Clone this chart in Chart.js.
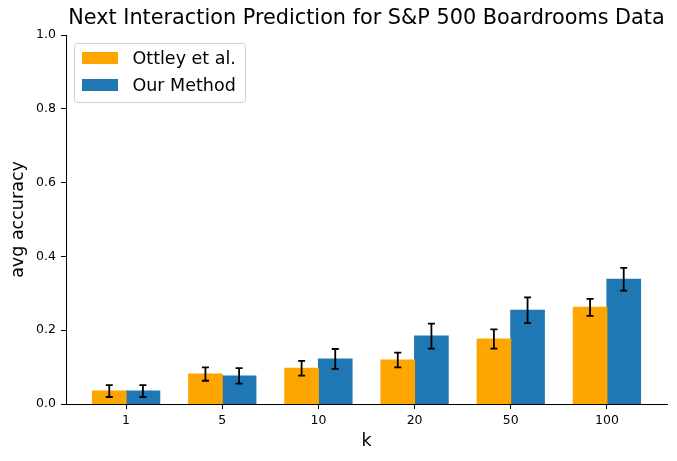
<!DOCTYPE html>
<html>
<head>
<meta charset="utf-8">
<script src="https://cdn.jsdelivr.net/npm/chart.js@4"></script>
<style>
  body { margin: 0; background: #fff; }
</style>
</head>
<body>
<canvas id="chart" width="677" height="461"></canvas>
<script>
const kLabels = ["1", "5", "10", "20", "50", "100"]
const ottley = [0.035, 0.081, 0.097, 0.119, 0.176, 0.262]
const ottleyErr = [0.016, 0.018, 0.020, 0.020, 0.026, 0.023]
const ours = [0.035, 0.076, 0.122, 0.184, 0.254, 0.338]
const oursErr = [0.016, 0.021, 0.027, 0.034, 0.035, 0.031]
const yTicks = [0, 0.2, 0.4, 0.6, 0.8, 1.0]

const FONT = "'DejaVu Sans', sans-serif"

// error bars, title and legend box drawn on top of the bars
const extras = {
  id: "extras",
  afterDatasetsDraw(chart) {
    const { ctx, chartArea, scales } = chart
    ctx.save()
    ctx.strokeStyle = "#000"
    ctx.lineWidth = 1.8
    chart.data.datasets.forEach((ds, d) => {
      chart.getDatasetMeta(d).data.forEach((bar, i) => {
        const v = ds.data[i].y, e = ds.errors[i]
        const top = scales.y.getPixelForValue(v + e)
        const bot = scales.y.getPixelForValue(v - e)
        ctx.beginPath()
        ctx.moveTo(bar.x, top); ctx.lineTo(bar.x, bot)
        ctx.moveTo(bar.x - 3.5, top); ctx.lineTo(bar.x + 3.5, top)
        ctx.moveTo(bar.x - 3.5, bot); ctx.lineTo(bar.x + 3.5, bot)
        ctx.stroke()
      })
    })

    // title
    ctx.fillStyle = "#000"
    ctx.font = "20.8px " + FONT
    ctx.textAlign = "center"
    ctx.textBaseline = "middle"
    ctx.fillText("Next Interaction Prediction for S&P 500 Boardrooms Data",
      (chartArea.left + chartArea.right) / 2, 19)

    // legend
    const x0 = chartArea.left + 8.5, y0 = chartArea.top + 8.5
    ctx.beginPath()
    ctx.roundRect(x0, y0, 171, 59, 3)
    ctx.fillStyle = "rgba(255,255,255,0.8)"
    ctx.fill()
    ctx.strokeStyle = "#d0d0d0"
    ctx.lineWidth = 1
    ctx.stroke()
    ctx.font = "17.5px " + FONT
    ctx.textAlign = "left"
    chart.data.datasets.forEach((ds, d) => {
      const cy = y0 + 14.5 + d * 27
      ctx.fillStyle = ds.backgroundColor
      ctx.fillRect(x0 + 7.5, cy - 6, 36, 12)
      ctx.fillStyle = "#000"
      ctx.fillText(ds.label, x0 + 58, cy + 1)
    })
    ctx.restore()
  }
}

new Chart(document.getElementById("chart"), {
  type: "bar",
  data: {
    datasets: [
      {
        label: "Ottley et al.",
        data: ottley.map((v, i) => ({ x: i, y: v })),
        errors: ottleyErr,
        backgroundColor: "#ffa500",
        borderWidth: 0,
        borderColor: "rgba(0,0,0,0)",
        inflateAmount: 0.5
      },
      {
        label: "Our Method",
        data: ours.map((v, i) => ({ x: i, y: v })),
        errors: oursErr,
        backgroundColor: "#1f77b4",
        borderWidth: 0,
        borderColor: "rgba(0,0,0,0)",
        inflateAmount: 0.5
      }
    ]
  },
  options: {
    responsive: false,
    animation: false,
    devicePixelRatio: 1,
    categoryPercentage: 0.7,
    barPercentage: 1.0,
    layout: { padding: { top: 35, right: 10, left: 0, bottom: 0 } },
    plugins: { legend: { display: false }, tooltip: { enabled: false } },
    scales: {
      x: {
        type: "linear",
        offset: false,
        min: -0.625,
        max: 5.625,
        afterFit: s => { s.height = 57 },
        afterBuildTicks: s => { s.ticks = kLabels.map((_, i) => ({ value: i })) },
        ticks: {
          callback: v => kLabels[v],
          color: "#000",
          font: { family: FONT, size: 12.5 },
          padding: 4,
          maxRotation: 0
        },
        grid: { offset: false, drawOnChartArea: false, tickLength: 5, color: "#000" },
        border: { color: "#000", width: 1 },
        title: {
          display: true,
          text: "k",
          color: "#000",
          font: { family: FONT, size: 17.5 },
          padding: { top: 0, bottom: 9.5 }
        }
      },
      y: {
        min: 0,
        max: 1,
        afterFit: s => { s.width = 66 },
        afterBuildTicks: s => { s.ticks = yTicks.map(v => ({ value: v })) },
        ticks: {
          callback: v => v.toFixed(1),
          color: "#000",
          font: { family: FONT, size: 12.5 },
          padding: 5
        },
        grid: { drawOnChartArea: false, tickLength: 5, color: "#000" },
        border: { color: "#000", width: 1 },
        title: {
          display: true,
          text: "avg accuracy",
          color: "#000",
          font: { family: FONT, size: 17.5 },
          padding: { top: 7.5, bottom: 0 }
        }
      }
    }
  },
  plugins: [extras]
})
</script>
</body>
</html>
